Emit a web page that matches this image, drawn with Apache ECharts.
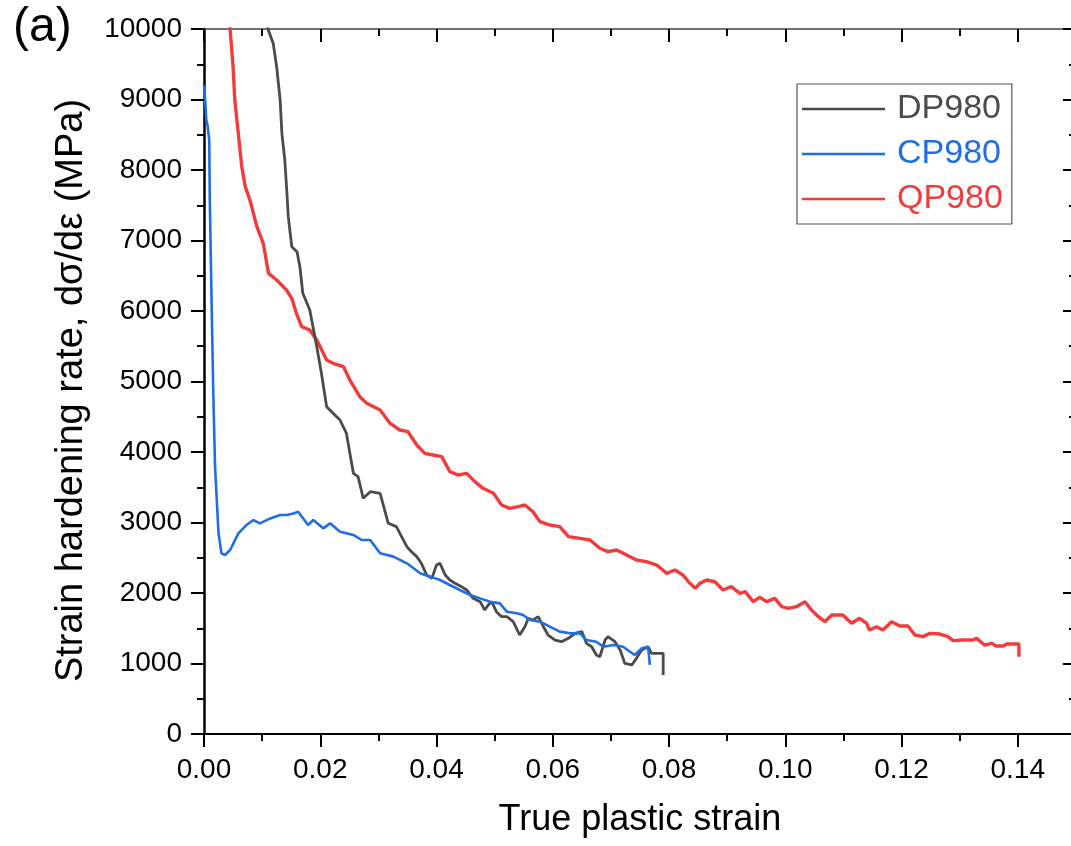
<!DOCTYPE html>
<html>
<head>
<meta charset="utf-8">
<script src="https://cdn.jsdelivr.net/npm/echarts@6/dist/echarts.min.js"></script>
<style>
html,body{margin:0;padding:0;background:#fff;}
#chart{width:1071px;height:846px;}
</style>
</head>
<body>
<div id="chart"></div>
<script>
// ---- Data ----
const seriesNames = ['DP980', 'CP980', 'QP980'];
const xTickLabels = ['0.00','0.02','0.04','0.06','0.08','0.10','0.12','0.14'];
const yTickLabels = ['0','1000','2000','3000','4000','5000','6000','7000','8000','9000','10000'];

const dpX = [0.0108,0.0110,0.0119,0.0125,0.0131,0.0134,0.0139,0.0142,0.0145,0.0151,0.0160,0.0165,0.0170,0.0182,0.0194,0.0202,0.0211,0.0222,0.0234,0.0245,0.0257,0.0265,0.0274,0.0286,0.0303,0.0317,0.0331,0.0337,0.0349,0.0357,0.0366,0.0374,0.0383,0.0392,0.0400,0.0406,0.0415,0.0423,0.0432,0.0443,0.0452,0.0463,0.0475,0.0483,0.0489,0.0495,0.0503,0.0512,0.0521,0.0532,0.0543,0.0552,0.0558,0.0566,0.0575,0.0584,0.0592,0.0604,0.0615,0.0627,0.0638,0.0650,0.0658,0.0667,0.0675,0.0681,0.0690,0.0695,0.0707,0.0716,0.0724,0.0736,0.0744,0.0753,0.0764,0.0770,0.0790,0.0790];
const dpY = [10300,10000,9797,9465,8993,8520,8142,7764,7338,6912,6841,6628,6251,6014,5494,5116,4643,4549,4454,4265,3697,3650,3343,3437,3414,2989,2941,2847,2657,2586,2516,2421,2255,2208,2397,2421,2255,2184,2137,2090,2043,1924,1877,1759,1830,1877,1735,1664,1664,1593,1404,1522,1641,1617,1664,1522,1404,1333,1309,1357,1428,1452,1286,1238,1120,1096,1333,1381,1309,1191,1002,979,1073,1191,1238,1144,1144,837];

const cpX = [0.0000,0.0002,0.0004,0.0006,0.0009,0.0010,0.0013,0.0016,0.0019,0.0025,0.0030,0.0036,0.0045,0.0059,0.0073,0.0085,0.0096,0.0114,0.0131,0.0142,0.0154,0.0162,0.0179,0.0188,0.0205,0.0217,0.0234,0.0257,0.0271,0.0286,0.0303,0.0326,0.0349,0.0372,0.0389,0.0406,0.0423,0.0440,0.0458,0.0475,0.0492,0.0509,0.0521,0.0538,0.0549,0.0561,0.0578,0.0595,0.0612,0.0630,0.0647,0.0658,0.0675,0.0687,0.0704,0.0721,0.0733,0.0741,0.0753,0.0764,0.0767];
const cpY = [9200,8993,8709,8638,8425,7574,6156,4837,3792,2846,2563,2539,2610,2846,2964,3035,2988,3058,3106,3106,3129,3153,2964,3035,2917,2988,2870,2823,2752,2752,2563,2516,2421,2279,2232,2184,2113,2043,1972,1924,1877,1853,1735,1712,1688,1617,1593,1522,1452,1428,1428,1333,1309,1238,1262,1238,1167,1120,1215,1238,979];

const qpX = [0.0043,0.0045,0.0050,0.0053,0.0059,0.0065,0.0071,0.0079,0.0091,0.0102,0.0111,0.0125,0.0142,0.0151,0.0159,0.0168,0.0182,0.0194,0.0211,0.0222,0.0240,0.0251,0.0268,0.0280,0.0303,0.0320,0.0337,0.0351,0.0366,0.0380,0.0394,0.0409,0.0423,0.0437,0.0452,0.0466,0.0480,0.0498,0.0512,0.0526,0.0541,0.0552,0.0566,0.0578,0.0595,0.0612,0.0627,0.0647,0.0664,0.0681,0.0695,0.0710,0.0727,0.0744,0.0761,0.0779,0.0796,0.0810,0.0824,0.0836,0.0845,0.0853,0.0865,0.0879,0.0893,0.0907,0.0922,0.0931,0.0945,0.0956,0.0968,0.0982,0.0994,0.1005,0.1019,0.1034,0.1045,0.1057,0.1068,0.1080,0.1099,0.1114,0.1128,0.1140,0.1145,0.1157,0.1168,0.1183,0.1197,0.1211,0.1223,0.1237,0.1249,0.1266,0.1280,0.1289,0.1306,0.1323,0.1329,0.1343,0.1355,0.1363,0.1375,0.1381,0.1402,0.1402];
const qpY = [10300,9986,9465,8993,8520,8047,7764,7574,7196,6960,6534,6440,6298,6180,5967,5778,5730,5589,5305,5258,5210,5021,4785,4691,4596,4407,4312,4288,4099,3981,3957,3934,3721,3674,3697,3579,3485,3414,3248,3201,3225,3248,3153,3011,2964,2941,2799,2775,2752,2634,2586,2610,2539,2468,2444,2397,2279,2326,2255,2137,2066,2137,2184,2160,2043,2090,1996,2019,1877,1939,1877,1924,1806,1783,1806,1877,1759,1664,1593,1688,1688,1570,1641,1570,1475,1522,1475,1593,1532,1532,1404,1381,1428,1418,1381,1324,1333,1333,1357,1262,1286,1248,1248,1277,1277,1096];

const colors = ['#4b4b4b', '#1f6fe3', '#f23c3c'];
// ---------------------------------------------------

function zip(xs, ys){ return xs.map((x,i)=>[x, ys[i]]); }

const FONT = "'Liberation Sans', Arial, sans-serif";
const chart = echarts.init(document.getElementById('chart'), null, {renderer:'canvas'});

const xBase = {
  type:'value', min:0, max:0.16, interval:0.02,
  splitLine:{show:false}
};
const yBase = {
  type:'value', min:0, max:10000, interval:1000,
  splitLine:{show:false}
};

const option = {
  backgroundColor:'#fff',
  animation:false,
  textStyle:{fontFamily:FONT},
  graphic:[{
    type:'text', left:13, top:4,
    style:{text:'(a)', fontSize:48, fontFamily:FONT, fill:'#000'}
  }],
  grid:{left:204, top:29, bottom:112, right:-63, containLabel:false, outerBoundsMode:'none'},
  legend:{
    orient:'vertical', left:797, top:84,
    padding:[8,9,8,5],
    borderColor:'#555', borderWidth:1.2,
    icon:'rect',
    itemWidth:83, itemHeight:2.5, itemGap:11,
    data: seriesNames.map((n,i)=>({name:n, textStyle:{color:colors[i]}})),
    textStyle:{fontSize:34, fontFamily:FONT, padding:[0,0,0,7]}
  },
  xAxis:[
    Object.assign({}, xBase, {
      position:'bottom',
      name:'True plastic strain', nameLocation:'middle', nameGap:68,
      nameTextStyle:{fontSize:36, color:'#000', fontFamily:FONT, padding:[0,58,0,0]},
      axisLine:{onZero:false, lineStyle:{color:'#000', width:2}},
      axisTick:{inside:false, length:13, lineStyle:{color:'#000', width:2}},
      minorTick:{show:true, splitNumber:2, length:7, lineStyle:{color:'#000', width:2}},
      axisLabel:{fontSize:28, color:'#000', margin:22, fontFamily:FONT,
        formatter:(v)=>{ const i = Math.round(v/0.02); return xTickLabels[i] !== undefined && Math.abs(v-i*0.02)<1e-9 ? xTickLabels[i] : ''; }}
    }),
    Object.assign({}, xBase, {
      position:'top',
      axisLine:{onZero:false, lineStyle:{color:'#444', width:1.5}},
      axisTick:{inside:true, length:13, lineStyle:{color:'#000', width:2}},
      minorTick:{show:true, splitNumber:2, length:7, lineStyle:{color:'#000', width:2}},
      axisLabel:{show:false}
    })
  ],
  yAxis:[
    Object.assign({}, yBase, {
      position:'left',
      name:'Strain hardening rate, dσ/dε (MPa)', nameLocation:'middle', nameGap:113,
      nameTextStyle:{fontSize:38, color:'#000', fontFamily:FONT, padding:[0,18,0,0]},
      axisLine:{onZero:false, lineStyle:{color:'#000', width:2.5}},
      axisTick:{inside:false, length:13, lineStyle:{color:'#000', width:2}},
      minorTick:{show:true, splitNumber:2, length:7, lineStyle:{color:'#000', width:2}},
      axisLabel:{fontSize:28, color:'#000', margin:22, fontFamily:FONT,
        formatter:(v)=>{ const i = Math.round(v/1000); return yTickLabels[i] || ''; }}
    }),
    Object.assign({}, yBase, {
      position:'right', offset:-58,
      axisLine:{onZero:false, lineStyle:{color:'#000', width:2}},
      axisTick:{inside:true, length:13, lineStyle:{color:'#000', width:2}},
      minorTick:{show:true, splitNumber:2, length:7, lineStyle:{color:'#000', width:2}},
      axisLabel:{show:false}
    })
  ],
  series:[
    {name:seriesNames[0], type:'line', data:zip(dpX,dpY), showSymbol:false, symbol:'none',
     lineStyle:{color:colors[0], width:2.8}, itemStyle:{color:colors[0]}, clip:true, z:3},
    {name:seriesNames[1], type:'line', data:zip(cpX,cpY), showSymbol:false, symbol:'none',
     lineStyle:{color:colors[1], width:2.6}, itemStyle:{color:colors[1]}, clip:true, z:4},
    {name:seriesNames[2], type:'line', data:zip(qpX,qpY), showSymbol:false, symbol:'none',
     lineStyle:{color:colors[2], width:3.4}, itemStyle:{color:colors[2]}, clip:true, z:2}
  ]
};
chart.setOption(option);
</script>
</body>
</html>
